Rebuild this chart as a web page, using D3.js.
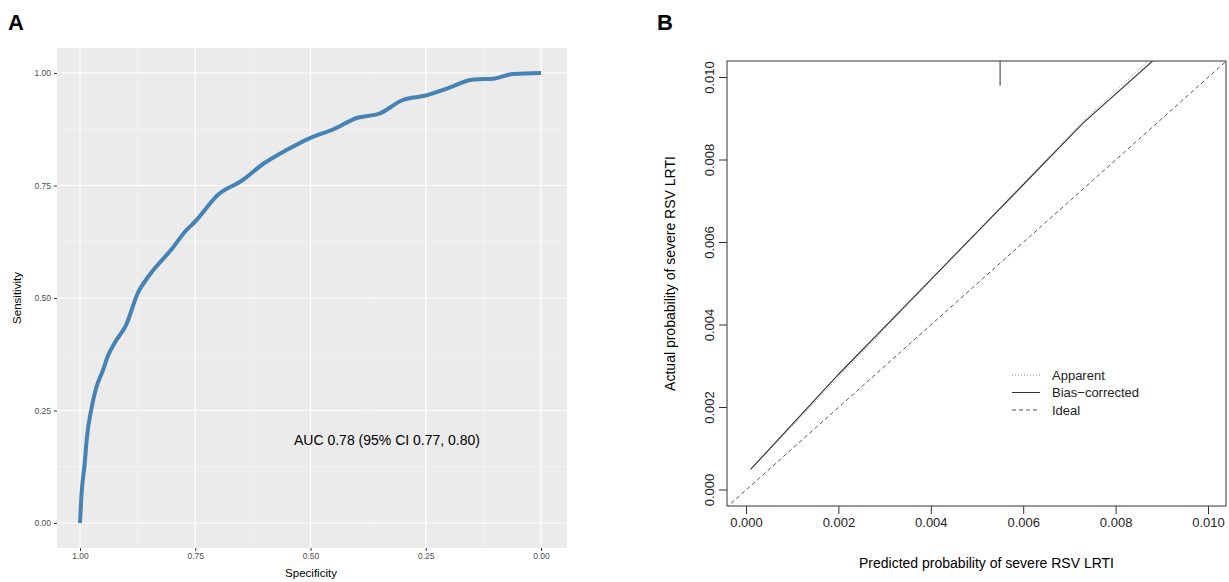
<!DOCTYPE html>
<html><head><meta charset="utf-8">
<script src="https://cdn.jsdelivr.net/npm/d3@7"></script>
<style>body{margin:0;background:#fff}text{font-family:"Liberation Sans",Arial,sans-serif}</style>
</head><body><svg id="c" width="1229" height="582"></svg>
<script>
// Panel A: ROC
const rocSpec = [1.00,0.997,0.99,0.985,0.975,0.965,0.95,0.94,0.925,0.90,0.875,0.85,0.80,0.77,0.75,0.70,0.65,0.60,0.55,0.50,0.45,0.40,0.35,0.30,0.25,0.20,0.15,0.10,0.06,0.0];
const rocSens = [0.00,0.06,0.13,0.19,0.255,0.30,0.34,0.37,0.40,0.44,0.51,0.55,0.61,0.65,0.67,0.73,0.76,0.80,0.83,0.856,0.875,0.90,0.91,0.94,0.95,0.967,0.985,0.988,0.998,1.0];
const rocTicks = [0,0.25,0.5,0.75,1];
// Panel B: calibration
const calX = [0.0001,0.002,0.004,0.006,0.0073,0.0088];
const calBias = [0.0005,0.0028,0.0051,0.0074,0.0089,0.0104];
const calApp = [0.0001,0.0073,0.0088];
const calAppY = [0.0005,0.00895,0.0105];
const calTicks = [0,0.002,0.004,0.006,0.008,0.010];
const legendLabels = ["Apparent","Bias\u2212corrected","Ideal"];

const svg = d3.select("#c");
// ---- A
svg.append("text").attr("x",8).attr("y",30).attr("font-size",22).attr("font-weight","bold").text("A");
const ax = d3.scaleLinear().domain([1,0]).range([80,541]);
const ay = d3.scaleLinear().domain([0,1]).range([523,73]);
const AL=57,AR=567,AT=48,AB=548;
svg.append("rect").attr("x",AL).attr("y",AT).attr("width",AR-AL).attr("height",AB-AT).attr("fill","#ebebeb");
const minor=[0.125,0.375,0.625,0.875];
const gA=svg.append("g");
minor.forEach(v=>{
  gA.append("line").attr("x1",ax(v)).attr("x2",ax(v)).attr("y1",AT).attr("y2",AB).attr("stroke","#f7f7f7").attr("stroke-width",0.6);
  gA.append("line").attr("y1",ay(v)).attr("y2",ay(v)).attr("x1",AL).attr("x2",AR).attr("stroke","#f7f7f7").attr("stroke-width",0.6);
});
rocTicks.forEach(v=>{
  gA.append("line").attr("x1",ax(v)).attr("x2",ax(v)).attr("y1",AT).attr("y2",AB).attr("stroke","#fff").attr("stroke-width",1.2);
  gA.append("line").attr("y1",ay(v)).attr("y2",ay(v)).attr("x1",AL).attr("x2",AR).attr("stroke","#fff").attr("stroke-width",1.2);
});
const xa=svg.append("g").attr("transform",`translate(0,${AB})`).call(d3.axisBottom(ax).tickValues(rocTicks).tickFormat(d3.format(".2f")).tickSize(3).tickPadding(2));
const ya=svg.append("g").attr("transform",`translate(${AL},0)`).call(d3.axisLeft(ay).tickValues(rocTicks).tickFormat(d3.format(".2f")).tickSize(3).tickPadding(3));
[xa,ya].forEach(g=>{g.select(".domain").remove();g.selectAll("line").attr("stroke","#333");g.selectAll("text").attr("fill","#4d4d4d").attr("font-size",8.5);});
svg.append("path").datum(rocSpec.map((s,i)=>[s,rocSens[i]]))
  .attr("d",d3.line().x(d=>ax(d[0])).y(d=>ay(d[1])).curve(d3.curveMonotoneX))
  .attr("fill","none").attr("stroke","#4682b4").attr("stroke-width",4);
svg.append("text").attr("x",294).attr("y",445).attr("font-size",14).text("AUC 0.78 (95% CI 0.77, 0.80)");
svg.append("text").attr("x",311).attr("y",577).attr("font-size",11.5).attr("text-anchor","middle").text("Specificity");
svg.append("text").attr("transform","translate(21,298) rotate(-90)").attr("font-size",11.5).attr("text-anchor","middle").text("Sensitivity");
// ---- B
svg.append("text").attr("x",657).attr("y",30).attr("font-size",22).attr("font-weight","bold").text("B");
const bx=d3.scaleLinear().domain([0,0.010]).range([746,1208]);
const by=d3.scaleLinear().domain([0,0.010]).range([490,77.5]);
const L=727,R=1226,T=61,B=506;
svg.append("clipPath").attr("id","cb").append("rect").attr("x",L).attr("y",T).attr("width",R-L).attr("height",B-T);
const gB=svg.append("g").attr("clip-path","url(#cb)");
gB.append("line").attr("x1",bx(-0.001)).attr("y1",by(-0.001)).attr("x2",bx(0.011)).attr("y2",by(0.011)).attr("stroke","#555").attr("stroke-dasharray","4,3").attr("stroke-width",1);
gB.append("path").datum(calApp.map((x,i)=>[x,calAppY[i]])).attr("d",d3.line().x(d=>bx(d[0])).y(d=>by(d[1]))).attr("fill","none").attr("stroke","#888").attr("stroke-dasharray","1,2").attr("stroke-width",1);
gB.append("path").datum(calX.map((x,i)=>[x,calBias[i]])).attr("d",d3.line().x(d=>bx(d[0])).y(d=>by(d[1]))).attr("fill","none").attr("stroke","#333").attr("stroke-width",1.1);
svg.append("line").attr("x1",bx(0.0055)).attr("x2",bx(0.0055)).attr("y1",T).attr("y2",by(0.0098)).attr("stroke","#333");
svg.append("rect").attr("x",L).attr("y",T).attr("width",R-L).attr("height",B-T).attr("fill","none").attr("stroke","#333");
const fmt=d3.format(".3f");
const xb=svg.append("g").attr("transform",`translate(0,${B})`).call(d3.axisBottom(bx).tickValues(calTicks).tickFormat(fmt).tickSize(8).tickPadding(4));
xb.select(".domain").remove();xb.selectAll("line").attr("stroke","#333");xb.selectAll("text").attr("fill","#222").attr("font-size",13);
const gy=svg.append("g");
calTicks.forEach(v=>{
  gy.append("line").attr("x1",L-8).attr("x2",L).attr("y1",by(v)).attr("y2",by(v)).attr("stroke","#333");
  gy.append("text").attr("transform",`translate(${L-13},${by(v)}) rotate(-90)`).attr("text-anchor","middle").attr("font-size",13).attr("fill","#222").text(fmt(v));
});
svg.append("text").attr("x",(L+R)/2+10).attr("y",568).attr("font-size",14).attr("text-anchor","middle").text("Predicted probability of severe RSV LRTI");
svg.append("text").attr("transform",`translate(675,${(T+B)/2-10}) rotate(-90)`).attr("font-size",14).attr("text-anchor","middle").text("Actual probability of severe RSV LRTI");
const dashes=["1,2",null,"4,3"], cols=["#888","#333","#555"];
legendLabels.forEach((t,i)=>{
  const y=375+i*17.5;
  svg.append("line").attr("x1",1012).attr("x2",1040).attr("y1",y).attr("y2",y).attr("stroke",cols[i]).attr("stroke-dasharray",dashes[i]);
  svg.append("text").attr("x",1052).attr("y",y+4.5).attr("font-size",13).attr("fill","#222").text(t);
});
</script></body></html>
